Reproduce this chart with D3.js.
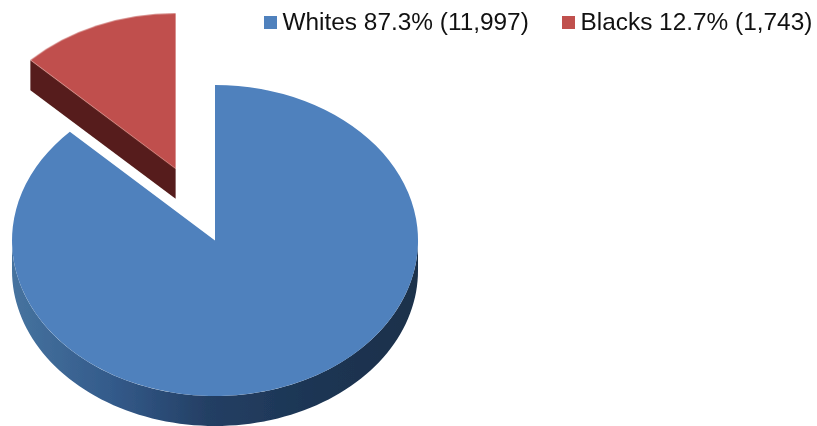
<!DOCTYPE html>
<html>
<head>
<meta charset="utf-8">
<script src="https://cdn.jsdelivr.net/npm/d3@7"></script>
<style>
  html, body { margin: 0; padding: 0; background: #fff; }
  svg { display: block; }
  text { font-family: "Liberation Sans", Arial, sans-serif; fill: #111; }
</style>
</head>
<body>
<div id="chart"></div>
<script>
'use strict';
// the data
var categories = ['Whites', 'Blacks'];
var counts = [11997, 1743];
var percents = ['87.3%', '12.7%'];
var countLabels = ['11,997', '1,743'];

var width = 817, height = 426;
var cx = 215, cy = 240.5, rx = 203, ry = 155.5, depth = 30;
var explode = [0, 0.5];
var topColors = ['#4f81bd', '#c0504d'];

var svg = d3.select('#chart').append('svg')
    .attr('width', width)
    .attr('height', height);

var defs = svg.append('defs');

// side wall gradient of the big slice
var grad = defs.append('linearGradient')
    .attr('id', 'wallBlue')
    .attr('x1', '0%').attr('x2', '100%')
    .attr('y1', '0%').attr('y2', '0%');
grad.append('stop').attr('offset', '0%').attr('stop-color', '#46739f');
grad.append('stop').attr('offset', '25%').attr('stop-color', '#335a8a');
grad.append('stop').attr('offset', '48%').attr('stop-color', '#243f64');
grad.append('stop').attr('offset', '75%').attr('stop-color', '#1c3553');
grad.append('stop').attr('offset', '100%').attr('stop-color', '#1a304b');

// the reference is a soft scan, take the hard edge off the pie
defs.append('filter').attr('id', 'soft')
    .append('feGaussianBlur').attr('stdDeviation', 0.4);

// set the ranges, unit circle to the tilted ellipse
var x = d3.scaleLinear().domain([-1, 1]).range([cx - rx, cx + rx]);
var y = d3.scaleLinear().domain([-1, 1]).range([cy - ry, cy + ry]);

var pie = d3.pie().sort(null);
var slices = pie(counts);

var arc = d3.arc().innerRadius(0).outerRadius(1);

// extruded wall between a list of unit circle points and the same points moved down
var wall = d3.area()
    .x(function(d) { return x(d[0]); })
    .y0(function(d) { return y(d[1]); })
    .y1(function(d) { return y(d[1]) + depth; });

var pieGroup = svg.append('g').attr('filter', 'url(#soft)');

slices.forEach(function(s, i) {
    var mid = (s.startAngle + s.endAngle) / 2;
    var dx = x(Math.sin(mid) * explode[i]) - x(0);
    var dy = y(-Math.cos(mid) * explode[i]) - y(0);
    var g = pieGroup.append('g').attr('transform', 'translate(' + dx + ',' + dy + ')');

    if (i === 0) {
        // front of the rim, right side round to the left side
        var rim = d3.range(Math.PI / 2, 3 * Math.PI / 2 + 0.001, Math.PI / 90)
            .map(function(a) { return [Math.sin(a), -Math.cos(a)]; });
        g.append('path')
            .attr('d', wall(rim))
            .attr('fill', 'url(#wallBlue)');
    } else {
        // cut face of the pulled out slice
        var e = s.startAngle;
        g.append('path')
            .attr('d', wall([[Math.sin(e), -Math.cos(e)], [0, 0]]))
            .attr('fill', '#561f1b');
    }

    g.append('path')
        .attr('transform', 'translate(' + x(0) + ',' + y(0) + ') scale(' + rx + ',' + ry + ')')
        .attr('d', arc(s))
        .attr('fill', topColors[i]);
});

// legend
var legendSwatchX = [264, 562];
var legend = svg.selectAll('g.legend')
    .data(categories)
    .enter().append('g')
    .attr('class', 'legend');

legend.append('rect')
    .attr('x', function(d, i) { return legendSwatchX[i]; })
    .attr('y', 16)
    .attr('width', 13)
    .attr('height', 13)
    .attr('fill', function(d, i) { return topColors[i]; });

legend.append('text')
    .attr('x', function(d, i) { return legendSwatchX[i] + 18.5; })
    .attr('y', 30)
    .attr('font-size', 24.4)
    .text(function(d, i) { return d + ' ' + percents[i] + ' (' + countLabels[i] + ')'; });
</script>
</body>
</html>
